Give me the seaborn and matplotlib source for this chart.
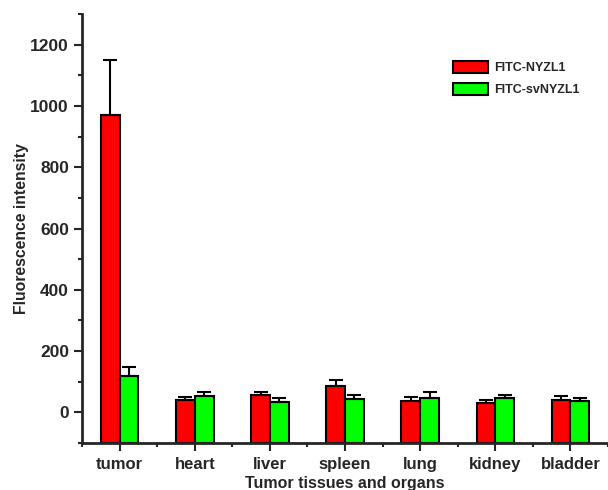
import matplotlib
matplotlib.use("Agg")
import matplotlib.pyplot as plt
from matplotlib.ticker import MultipleLocator
import numpy as np
import pandas as pd
import seaborn as sns

tissues = ["tumor", "heart", "liver", "spleen", "lung", "kidney", "bladder"]
probes = ["FITC-NYZL1", "FITC-svNYZL1"]
nyzl1_mean = [972, 40, 55, 86, 37, 31, 41]
nyzl1_err = [180, 11, 12, 21, 14, 10, 13]
sv_mean = [118, 53, 35, 42, 48, 46, 38]
sv_err = [31, 14, 12, 16, 18, 12, 9]

df = pd.DataFrame({
    "tissue": tissues * 2,
    "probe": [probes[0]] * len(tissues) + [probes[1]] * len(tissues),
    "value": nyzl1_mean + sv_mean,
    "err": nyzl1_err + sv_err,
})

sns.set_style("ticks")
plt.rcParams["font.family"] = ["Liberation Sans", "DejaVu Sans"]
plt.rcParams["font.weight"] = "bold"

fig = plt.figure(figsize=(6.08, 4.9), dpi=100)
ax = fig.add_axes([0.135, 0.096, 0.865, 0.875])

ymin = -100
sns.barplot(data=df, x="tissue", y="value", hue="probe", order=tissues,
            hue_order=probes, palette=["#ff0000", "#00ff00"], saturation=1,
            width=0.5, gap=0, errorbar=None, edgecolor="black", linewidth=1.5,
            ax=ax)

# bars in the original are drawn down to the bottom of the axis
for container in ax.containers:
    for p in container:
        top = p.get_y() + p.get_height()
        p.set_y(ymin)
        p.set_height(top - ymin)

# upward-only error bars, placed at the bar centres
for container, means, errs in zip(ax.containers, [nyzl1_mean, sv_mean],
                                  [nyzl1_err, sv_err]):
    xs = [p.get_x() + p.get_width() / 2 for p in container]
    ax.errorbar(xs, means, yerr=[np.zeros(len(errs)), errs], fmt="none",
                ecolor="black", elinewidth=1.5, capsize=5, capthick=1.5,
                zorder=1)

ax.set_xlim(-0.5, 6.5)
ax.set_ylim(ymin, 1300)
ax.set_yticks([0, 200, 400, 600, 800, 1000, 1200])
ax.yaxis.set_minor_locator(MultipleLocator(100))
ax.xaxis.set_minor_locator(MultipleLocator(1, offset=0.5))
ax.tick_params(axis="y", which="major", length=6, width=1.5, labelsize=12.5)
ax.tick_params(axis="x", which="major", length=6, width=1.5, labelsize=12, pad=4)
ax.tick_params(axis="both", which="minor", length=3, width=1.5)
for lbl in ax.get_xticklabels() + ax.get_yticklabels():
    lbl.set_fontweight("bold")

for s in ["top", "right"]:
    ax.spines[s].set_visible(False)
for s in ["left", "bottom"]:
    ax.spines[s].set_linewidth(2)

ax.set_xlabel("Tumor tissues and organs", fontsize=11.5, fontweight="bold", labelpad=3)
ax.set_ylabel("Fluorescence intensity", fontsize=11.3, fontweight="bold", labelpad=1)

ax.legend(title=None, loc="upper right", bbox_to_anchor=(0.968, 0.918),
          frameon=False, prop={"weight": "bold", "size": 9},
          handlelength=2.8, handleheight=1.1, labelspacing=0.7,
          handletextpad=0.5)

plt.savefig("out.png", dpi=100)
